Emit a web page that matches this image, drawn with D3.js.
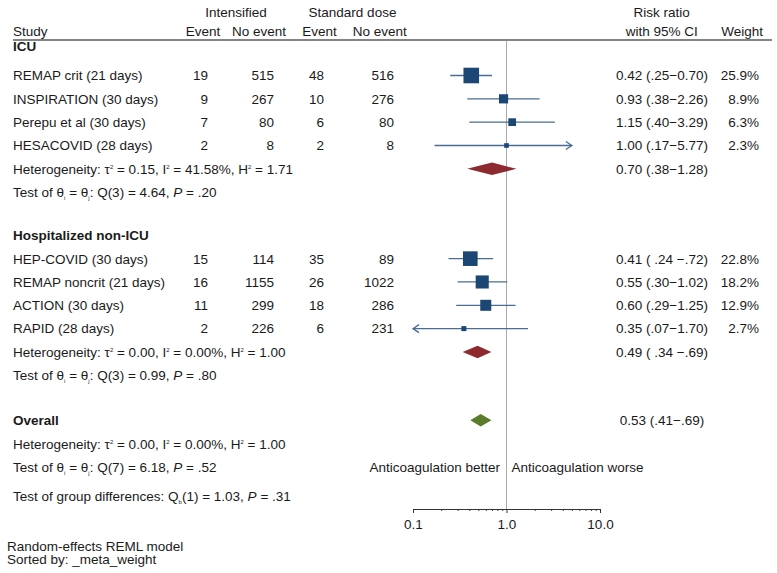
<!DOCTYPE html>
<html>
<head>
<meta charset="utf-8">
<script src="https://cdn.jsdelivr.net/npm/d3@7"></script>
<style>
  body { margin: 0; background: #fff; }
  svg text { font-family: Arial, "Liberation Sans", sans-serif; font-size: 13.5px; fill: #1a1a1a; }
</style>
</head>
<body>
<script>
const width = 777;
const height = 573;

// study data
const groups = ["ICU", "Hospitalized non-ICU"];
const studyNames = ["REMAP crit (21 days)", "INSPIRATION (30 days)", "Perepu et al (30 days)", "HESACOVID (28 days)",
  "HEP-COVID (30 days)", "REMAP noncrit (21 days)", "ACTION (30 days)", "RAPID (28 days)"];
const studyGroup = [0, 0, 0, 0, 1, 1, 1, 1];
const intEvent = [19, 9, 7, 2, 15, 16, 11, 2];
const intNoEvent = [515, 267, 80, 8, 114, 1155, 299, 226];
const stdEvent = [48, 10, 6, 2, 35, 26, 18, 6];
const stdNoEvent = [516, 276, 80, 8, 89, 1022, 286, 231];
const rr = [0.42, 0.93, 1.15, 1.00, 0.41, 0.55, 0.60, 0.35];
const rrLow = [0.25, 0.38, 0.40, 0.17, 0.24, 0.30, 0.29, 0.07];
const rrHigh = [0.70, 2.26, 3.29, 5.77, 0.72, 1.02, 1.25, 1.70];
const weights = [25.9, 8.9, 6.3, 2.3, 22.8, 18.2, 12.9, 2.7];
const ciLabels = ["0.42 (.25\u22120.70)", "0.93 (.38\u22122.26)", "1.15 (.40\u22123.29)", "1.00 (.17\u22125.77)",
  "0.41 ( .24 \u2212.72)", "0.55 (.30\u22121.02)", "0.60 (.29\u22121.25)", "0.35 (.07\u22121.70)"];

// pooled: ICU, non-ICU, overall
const pooledRR = [0.70, 0.49, 0.53];
const pooledLow = [0.38, 0.34, 0.41];
const pooledHigh = [1.28, 0.69, 0.69];
const pooledLabels = ["0.70 (.38\u22121.28)", "0.49 ( .34 \u2212.69)", "0.53 (.41\u2212.69)"];
const tau2 = ["0.15", "0.00", "0.00"];
const i2 = ["41.58%", "0.00%", "0.00%"];
const h2 = ["1.71", "1.00", "1.00"];
const qDf = [3, 3, 7];
const qStat = ["4.64", "0.99", "6.18"];
const qP = [".20", ".80", ".52"];
const groupDiff = ["1", "1.03", ".31"];

const xTicks = [0.1, 1, 10];
const xTickLabels = ["0.1", "1.0", "10.0"];
const clipRange = [0.1, 5];

const svg = d3.select("body").append("svg").attr("width", width).attr("height", height);

const x = d3.scaleLog().domain([0.1, 10]).range([413, 600]);
// row slot -> pixel
const y = d3.scaleLinear().domain([0, 1]).range([75.5, 98.83]);
const boxSize = d3.scaleSqrt().domain([0, 25.9]).range([0, 15.6]);

// row slots
const groupHeadSlot = [-1.24, 6.85];
const studySlot = [0, 1, 2, 3, 7.85, 8.85, 9.85, 10.85];
const hetSlot = [4, 11.85, 15.8];
const testSlot = [5, 12.85, 16.8];
const overallSlot = 14.78;
const diffSlot = 18.05;

function txt(xp, yp, s, anchor) {
  return svg.append("text").attr("x", xp).attr("y", yp).attr("dy", "0.36em")
    .attr("text-anchor", anchor || "start").text(s);
}
// rich text: parts are [string, kind] with kind "", "sup", "sub", "it"
function rich(xp, yp, parts) {
  const t = svg.append("text").attr("x", xp).attr("y", yp).attr("dy", "0.36em");
  let cur = 0;
  parts.forEach(([s, kind]) => {
    const target = kind === "sup" ? -5 : kind === "sub" ? 2.5 : 0;
    const sp = t.append("tspan").text(s);
    if (target !== cur) sp.attr("dy", target - cur);
    cur = target;
    if (kind === "sup" || kind === "sub") sp.style("font-size", "6px");
    if (kind === "it") sp.style("font-style", "italic");
  });
  return t;
}

// header
txt(236, 12, "Intensified", "middle");
txt(352.5, 12, "Standard dose", "middle");
txt(661.7, 12, "Risk ratio", "middle");
txt(13, 31, "Study");
txt(203, 31, "Event", "middle");
txt(259, 31, "No event", "middle");
txt(319.5, 31, "Event", "middle");
txt(379.7, 31, "No event", "middle");
txt(661.7, 31, "with 95% CI", "middle");
txt(763, 31, "Weight", "end");

svg.append("line").attr("x1", 13).attr("x2", 772).attr("y1", 40).attr("y2", 40)
  .attr("stroke", "#5a5a5a").attr("stroke-width", 1.4);

// reference line at 1
svg.append("line").attr("x1", x(1)).attr("x2", x(1)).attr("y1", 41).attr("y2", 509)
  .attr("stroke", "#aaaaaa").attr("stroke-width", 1);

// group headings
groups.forEach((g, i) => txt(13, y(groupHeadSlot[i]), g).style("font-weight", "bold"));
txt(13, y(overallSlot), "Overall").style("font-weight", "bold");

// study rows
studyNames.forEach((name, i) => {
  const yy = y(studySlot[i]);
  txt(13, yy, name);
  txt(208, yy, intEvent[i], "end");
  txt(274, yy, intNoEvent[i], "end");
  txt(324, yy, stdEvent[i], "end");
  txt(394, yy, stdNoEvent[i], "end");
  txt(662, yy, ciLabels[i], "middle").attr("xml:space", "preserve");
  txt(759, yy, weights[i].toFixed(1) + "%", "end");
});

// CI lines with arrows when clipped
const ciColor = "#4a6d94";
studyNames.forEach((name, i) => {
  const yy = y(studySlot[i]);
  const l = Math.max(rrLow[i], clipRange[0]);
  const h = Math.min(rrHigh[i], clipRange[1]);
  svg.append("line").attr("x1", x(l)).attr("x2", x(h)).attr("y1", yy).attr("y2", yy)
    .attr("stroke", ciColor).attr("stroke-width", 1.3);
  if (rrHigh[i] > clipRange[1]) {
    const xe = x(clipRange[1]);
    svg.append("path").attr("d", `M${xe - 6},${yy - 4}L${xe},${yy}L${xe - 6},${yy + 4}`)
      .attr("fill", "none").attr("stroke", ciColor).attr("stroke-width", 1.3);
  }
  if (rrLow[i] < clipRange[0]) {
    const xs = x(clipRange[0]);
    svg.append("path").attr("d", `M${xs + 6},${yy - 4}L${xs},${yy}L${xs + 6},${yy + 4}`)
      .attr("fill", "none").attr("stroke", ciColor).attr("stroke-width", 1.3);
  }
});

svg.selectAll("rect.box").data(studyNames).enter().append("rect").attr("class", "box")
  .attr("x", (d, i) => x(rr[i]) - boxSize(weights[i]) / 2)
  .attr("y", (d, i) => y(studySlot[i]) - boxSize(weights[i]) / 2)
  .attr("width", (d, i) => boxSize(weights[i]))
  .attr("height", (d, i) => boxSize(weights[i]))
  .attr("fill", "#1c4775");

// pooled diamonds
const diamondColors = ["#8c2a30", "#8c2a30", "#5a7d2c"];
const pooledSlot = [hetSlot[0], hetSlot[1], overallSlot];
const dh = 6.3;
pooledRR.forEach((v, i) => {
  const yy = y(pooledSlot[i]);
  svg.append("path")
    .attr("d", `M${x(pooledLow[i])},${yy}L${x(v)},${yy - dh}L${x(pooledHigh[i])},${yy}L${x(v)},${yy + dh}Z`)
    .attr("fill", diamondColors[i]);
  txt(662, yy, pooledLabels[i], "middle").attr("xml:space", "preserve");
});

// heterogeneity + test lines
hetSlot.forEach((s, i) => {
  rich(13, y(s), [["Heterogeneity: \u03c4", ""], ["2", "sup"], [" = " + tau2[i] + ", I", ""], ["2", "sup"],
    [" = " + i2[i] + ", H", ""], ["2", "sup"], [" = " + h2[i], ""]]);
  rich(13, y(testSlot[i]), [["Test of \u03b8", ""], ["i", "sub"], [" = \u03b8", ""], ["j", "sub"],
    [": Q(" + qDf[i] + ") = " + qStat[i] + ", ", ""], ["P", "it"], [" = " + qP[i], ""]]);
});

rich(13, y(diffSlot), [["Test of group differences: Q", ""], ["b", "sub"],
  ["(" + groupDiff[0] + ") = " + groupDiff[1] + ", ", ""], ["P", "it"], [" = " + groupDiff[2], ""]]);

// favours labels
txt(x(1) - 6.5, y(testSlot[2]), "Anticoagulation better", "end");
txt(x(1) + 5, y(testSlot[2]), "Anticoagulation worse");

// axis
const axisY = 509;
const minor = d3.range(2, 10).map(d => d / 10).concat(d3.range(2, 10));
const minorAxis = d3.axisBottom(x).tickValues(minor).tickSize(2).tickSizeOuter(0).tickFormat("");
const gMinor = svg.append("g").attr("transform", `translate(0,${axisY})`).call(minorAxis);
gMinor.selectAll("line").attr("stroke", "#444");
gMinor.select(".domain").remove();

const majorAxis = d3.axisBottom(x).tickValues(xTicks).tickSize(4).tickSizeOuter(0)
  .tickFormat((d, i) => xTickLabels[i]);
const gMajor = svg.append("g").attr("transform", `translate(0,${axisY})`).call(majorAxis);
gMajor.select(".domain").attr("stroke", "#333");
gMajor.selectAll("line").attr("stroke", "#333");
gMajor.selectAll("text").attr("dy", null).attr("y", 20)
  .style("font-family", "Arial, 'Liberation Sans', sans-serif").style("font-size", "13.5px").attr("fill", "#1a1a1a");

// notes
txt(7, 546, "Random-effects REML model");
txt(7, 559.5, "Sorted by: _meta_weight");
</script>
</body>
</html>
